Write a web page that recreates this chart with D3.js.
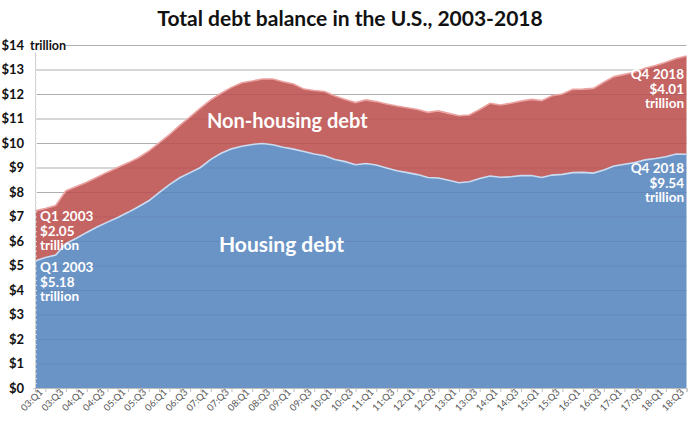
<!DOCTYPE html>
<html>
<head>
<meta charset="utf-8">
<script src="https://cdn.jsdelivr.net/npm/d3@7/dist/d3.min.js"></script>
<style>
  body { margin: 0; background: #fff; }
  svg { font-family: Lato, "Open Sans", sans-serif; }
</style>
</head>
<body>
<div id="chart"></div>
<script>
// quarterly balances in $ trillion, Q1 2003 .. Q4 2018
var years = d3.range(2003, 2019);
var quarters = [];
years.forEach(function(y) {
    ["Q1", "Q2", "Q3", "Q4"].forEach(function(q) {
        quarters.push(String(y).slice(2) + ":" + q);
    });
});

var housing = [5.18, 5.33, 5.43, 5.90, 6.11, 6.35, 6.57, 6.77, 6.96, 7.17,
               7.40, 7.64, 7.97, 8.30, 8.58, 8.79, 9.00, 9.33, 9.58, 9.76,
               9.87, 9.94, 9.98, 9.93, 9.83, 9.75, 9.65, 9.55, 9.48, 9.33,
               9.24, 9.11, 9.16, 9.10, 8.98, 8.87, 8.79, 8.71, 8.59, 8.57,
               8.48, 8.38, 8.42, 8.55, 8.65, 8.60, 8.62, 8.67, 8.67, 8.59,
               8.69, 8.72, 8.79, 8.80, 8.77, 8.90, 9.06, 9.13, 9.20, 9.31,
               9.37, 9.44, 9.55, 9.54];

var nonHousing = [2.05, 2.00, 2.02, 2.15, 2.11, 2.05, 2.03, 2.04, 2.04, 2.02,
                  2.00, 2.03, 2.04, 2.04, 2.14, 2.28, 2.42, 2.43, 2.45, 2.51,
                  2.59, 2.59, 2.63, 2.68, 2.67, 2.66, 2.55, 2.59, 2.62, 2.59,
                  2.54, 2.54, 2.60, 2.59, 2.61, 2.64, 2.65, 2.66, 2.66, 2.74,
                  2.73, 2.73, 2.72, 2.82, 2.97, 2.95, 3.00, 3.04, 3.11, 3.14,
                  3.24, 3.28, 3.40, 3.40, 3.46, 3.58, 3.65, 3.67, 3.69, 3.74,
                  3.79, 3.86, 3.90, 4.01];

var xTickLabels = ["03:Q1","03:Q3","04:Q1","04:Q3","05:Q1","05:Q3","06:Q1","06:Q3",
                   "07:Q1","07:Q3","08:Q1","08:Q3","09:Q1","09:Q3","10:Q1","10:Q3",
                   "11:Q1","11:Q3","12:Q1","12:Q3","13:Q1","13:Q3","14:Q1","14:Q3",
                   "15:Q1","15:Q3","16:Q1","16:Q3","17:Q1","17:Q3","18:Q1","18:Q3"];
var yTicks = d3.range(0, 15);

var width = 700, height = 421;
var plotLeft = 35, plotRight = 686.5, plotTop = 45, plotBottom = 388;

var svg = d3.select("#chart").append("svg")
    .attr("width", width)
    .attr("height", height);

var x = d3.scalePoint().domain(quarters).range([plotLeft, plotRight]);
var y = d3.scaleLinear().domain([0, 14]).range([plotBottom, plotTop]);

var rows = quarters.map(function(q, i) {
    return {q: q, housing: housing[i], nonHousing: nonHousing[i]};
});
var stacked = d3.stack().keys(["housing", "nonHousing"])(rows);

// title
svg.append("text")
    .attr("x", 350)
    .attr("y", 26)
    .attr("text-anchor", "middle")
    .attr("font-size", 21)
    .attr("font-weight", "bold")
    .attr("fill", "#111")
    .text("Total debt balance in the U.S., 2003-2018");

// grid lines behind
svg.append("g")
    .attr("transform", "translate(" + plotLeft + ",0)")
    .call(d3.axisLeft(y).tickValues(yTicks).tickSize(-(plotRight - plotLeft)).tickFormat(""))
    .call(function(g) {
        g.select(".domain").remove();
        g.selectAll("line").attr("stroke", "#bdbdbd");
    });

var area = d3.area()
    .x(function(d) { return x(d.data.q); })
    .y0(function(d) { return y(d[0]); })
    .y1(function(d) { return y(d[1]); });

var line = d3.line()
    .x(function(d) { return x(d.data.q); })
    .y(function(d) { return y(d[1]); });

var fills = ["#6b94c6", "#c46463"];
var edges = ["#c9dcf1", "#eba3a2"];

svg.selectAll(".layer")
    .data(stacked)
    .enter()
    .append("path")
    .attr("class", "layer")
    .attr("d", area)
    .attr("fill", function(d, i) { return fills[i]; });

// faint grid showing through the areas
svg.append("g")
    .attr("transform", "translate(" + plotLeft + ",0)")
    .call(d3.axisLeft(y).tickValues(yTicks.slice(1)).tickSize(-(plotRight - plotLeft)).tickFormat(""))
    .call(function(g) {
        g.select(".domain").remove();
        g.selectAll("line").attr("stroke", "rgba(0,0,0,0.07)");
    });

svg.selectAll(".edge")
    .data(stacked)
    .enter()
    .append("path")
    .attr("class", "edge")
    .attr("d", line)
    .attr("fill", "none")
    .attr("stroke", function(d, i) { return edges[i]; })
    .attr("stroke-width", 1.6);

// left axis with minor ticks
svg.append("g")
    .attr("transform", "translate(" + plotLeft + ",0)")
    .call(d3.axisLeft(y).tickValues(d3.range(0, 14.01, 0.2)).tickSize(2).tickFormat(""))
    .call(function(g) {
        g.select(".domain").attr("stroke", "#d0d0d0");
        g.selectAll("line").attr("stroke", "#e0e0e0").attr("x2", 2);
    });

svg.append("g")
    .attr("transform", "translate(" + plotLeft + ",0)")
    .call(d3.axisLeft(y).tickValues(yTicks).tickSize(0).tickPadding(11)
        .tickFormat(function(d) { return "$" + d; }))
    .call(function(g) {
        g.select(".domain").remove();
        g.selectAll("text")
            .attr("font-family", "Lato, sans-serif")
            .attr("font-size", 13)
            .attr("font-weight", "bold")
            .attr("fill", "#111");
    });

svg.append("rect")
    .attr("x", 28).attr("y", 36)
    .attr("width", 36).attr("height", 16)
    .attr("fill", "#fff");
svg.append("text")
    .attr("x", 30)
    .attr("y", y(14) + 4.5)
    .attr("font-size", 12.5)
    .attr("font-weight", "bold")
    .attr("fill", "#111")
    .text("trillion");

// bottom axis
var xAxis = svg.append("g")
    .attr("transform", "translate(0," + plotBottom + ")")
    .call(d3.axisBottom(x).tickSize(4).tickFormat(function(d) {
        return xTickLabels.indexOf(d) >= 0 ? d : "";
    }));
xAxis.select(".domain").attr("stroke", "#bdbdbd");
xAxis.selectAll("line").attr("stroke", "#bdbdbd");
xAxis.selectAll("text")
    .attr("font-family", "Lato, sans-serif")
    .attr("font-size", 9.5)
    .attr("fill", "#555")
    .attr("text-anchor", "end")
    .attr("dy", 0)
    .attr("transform", "translate(3,0) rotate(-45)");

// annotations
function label(lines, xPos, yPos, anchor, size, step) {
    svg.append("text")
        .attr("x", xPos)
        .attr("y", yPos)
        .attr("text-anchor", anchor)
        .attr("font-size", size)
        .attr("font-weight", "bold")
        .attr("fill", "#fff")
        .selectAll("tspan")
        .data(lines)
        .enter()
        .append("tspan")
        .attr("x", xPos)
        .attr("dy", function(d, i) { return i ? step : 0; })
        .text(function(d) { return d; });
}

label(["Non-housing debt"], 207, 128, "start", 20, 0);
label(["Housing debt"], 219, 252, "start", 21, 0);
label(["Q1 2003", "$" + nonHousing[0].toFixed(2), "trillion"], 40, 221, "start", 13.5, 14.7);
label(["Q1 2003", "$" + housing[0].toFixed(2), "trillion"], 40, 272, "start", 13.5, 14.5);
label(["Q4 2018", "$" + nonHousing[63].toFixed(2), "trillion"], 684, 79, "end", 13.5, 14.7);
label(["Q4 2018", "$" + housing[63].toFixed(2), "trillion"], 684, 173, "end", 13.5, 14.7);
</script>
</body>
</html>
